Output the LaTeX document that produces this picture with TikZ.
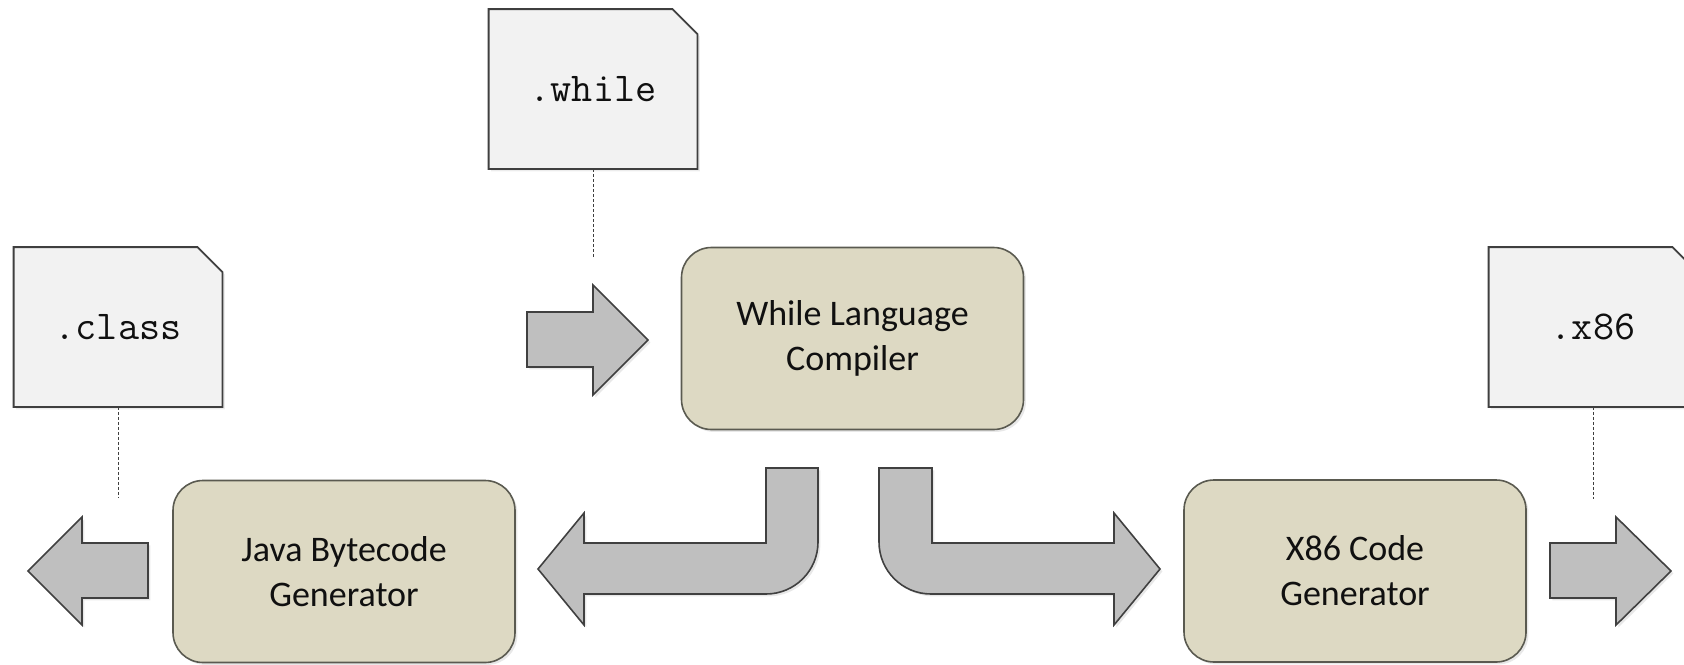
\documentclass[tikz,border=0pt]{standalone}
\usepackage{fontspec}
\setmainfont{Carlito}
\usetikzlibrary{shadows,backgrounds}

\definecolor{docfill}{HTML}{F2F2F2}
\definecolor{docline}{HTML}{3F3F3F}
\definecolor{boxfill}{HTML}{DDD9C3}
\definecolor{boxline}{HTML}{5A5A50}
\definecolor{arrfill}{HTML}{BFBFBF}
\definecolor{arrline}{HTML}{404040}
\definecolor{ink}{HTML}{101010}

\tikzset{
  stage/.style={draw=boxline, fill=boxfill, line width=0.8pt, rounded corners=15pt,
    minimum width=171pt, minimum height=91pt, align=center, text=ink,
    font=\fontsize{18}{22.5}\selectfont,
    drop shadow={shadow xshift=1.2pt, shadow yshift=-1.2pt, opacity=0.18}},
  doclabel/.style={minimum width=104pt, minimum height=79.5pt, inner sep=0pt,
    text=ink, font=\ttfamily\fontsize{20.5}{22}\selectfont},
  docsheet/.style={draw=docline, fill=docfill, line width=0.9pt,
    drop shadow={shadow xshift=1.2pt, shadow yshift=-1.2pt, opacity=0.15}},
  blockarrow/.style={draw=arrline, fill=arrfill, line width=0.8pt, line join=miter,
    drop shadow={shadow xshift=1.2pt, shadow yshift=-1.2pt, opacity=0.18}},
  leader/.style={draw=docline, line width=0.5pt, dash pattern=on 1.5pt off 1pt}
}

% file sheet with a clipped top-right corner behind a label node
\newcommand\sheetoutline[1]{%
  \begin{pgfonlayer}{background}
    \path[docsheet] (#1.south west) -- (#1.north west) -- ([xshift=-12.5pt]#1.north east)
      -- ([yshift=-12.5pt]#1.north east) -- (#1.south east) -- cycle;
  \end{pgfonlayer}}

\begin{document}
\begin{tikzpicture}[x=0.5pt, y=-0.5pt]
  \useasboundingbox (0,0) rectangle (1684,664);

  % processing stages
  \node[stage] (compiler) at (852.5,338.5) {While Language\\Compiler};
  \node[stage] (jvm) at (344,571.5) {Java Bytecode\\Generator};
  \node[stage] (x86gen) at (1355,571) {X86 Code\\Generator};

  % source and output files
  \node[doclabel] (srcfile) at (593,89) {.while};
  \sheetoutline{srcfile}
  \node[doclabel] (classfile) at (118,327) {.class};
  \sheetoutline{classfile}
  \node[doclabel] (x86file) at (1593,327) {.x86};
  \sheetoutline{x86file}

  % leaders from each file down to its arrow
  \coordinate (srcend) at (593,258);
  \coordinate (classend) at (118,497);
  \coordinate (x86end) at (1593,499);
  \draw[leader] (srcfile.south) -- (srcend);
  \draw[leader] (classfile.south) -- (classend);
  \draw[leader] (x86file.south) -- (x86end);

  % input arrow into the compiler
  \path[blockarrow] (527,312) -- (593,312) -- (593,285) -- (648,340) -- (593,395)
    -- (593,367) -- (527,367) -- cycle;

  % bent arrow towards the Java back end
  \path[blockarrow] (766,468) -- (818,468) -- (818,542)
    .. controls (818,570.7) and (794.7,594) .. (766,594)
    -- (584,594) -- (584,625) -- (538,569) -- (584,513) -- (584,543)
    -- (766,543) -- cycle;

  % bent arrow towards the x86 back end
  \path[blockarrow] (879,468) -- (932,468) -- (932,543) -- (1114,543) -- (1114,513)
    -- (1160,569) -- (1114,625) -- (1114,594) -- (931,594)
    .. controls (902.3,594) and (879,570.7) .. (879,542) -- cycle;

  % output arrows
  \path[blockarrow] (148,543) -- (82,543) -- (82,517) -- (28,571) -- (82,625)
    -- (82,598) -- (148,598) -- cycle;
  \path[blockarrow] (1550,543) -- (1616,543) -- (1616,517) -- (1671,571) -- (1616,625)
    -- (1616,598) -- (1550,598) -- cycle;
\end{tikzpicture}
\end{document}
